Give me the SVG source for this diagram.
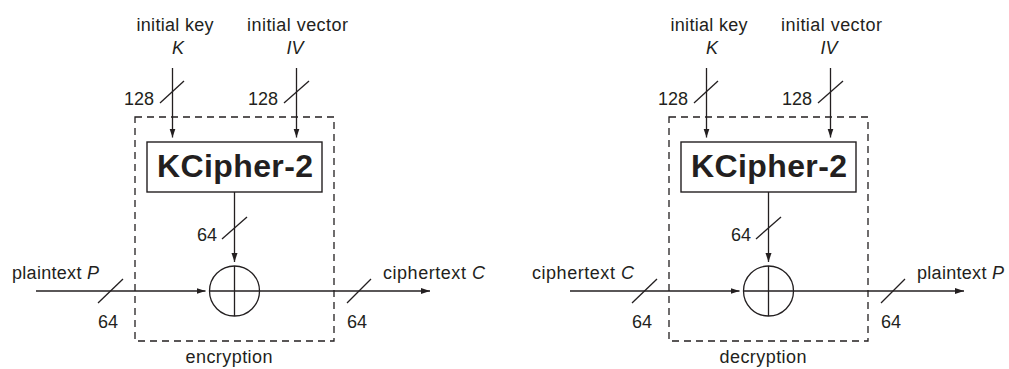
<svg xmlns="http://www.w3.org/2000/svg" width="1009" height="369" viewBox="0 0 1009 369">
<style>
.t{font-family:"Liberation Sans",Arial,sans-serif;font-size:18px;fill:#231f20}
.i{font-style:italic}
.b{font-family:"Liberation Sans",Arial,sans-serif;font-size:32px;font-weight:bold;fill:#231f20}
.ln{stroke:#231f20;stroke-width:1.3;fill:none}
.dash{stroke:#231f20;stroke-width:1.3;fill:none;stroke-dasharray:7 5}
.box{stroke:#231f20;stroke-width:1.4;fill:#fff}
</style>
<defs>
<marker id="ah" markerUnits="userSpaceOnUse" markerWidth="10" markerHeight="7" refX="9" refY="3" orient="auto">
<path d="M0,0 L9,3 L0,6 z" fill="#231f20"/>
</marker>
</defs>
<g id="encryption-panel">
<g id="enc-frame"><rect class="dash" x="135" y="117" width="199" height="224"/><text class="t" x="229" y="363" text-anchor="middle" textLength="87">encryption</text></g>
<g id="enc-key"><text class="t" x="175" y="31" text-anchor="middle" textLength="77">initial key</text><text class="t i" x="178" y="54" text-anchor="middle">K</text></g>
<g id="enc-iv"><text class="t" x="297.5" y="31" text-anchor="middle" textLength="101">initial vector</text><text class="t i" x="295" y="54" text-anchor="middle">IV</text></g>
<g id="enc-kcipher"><rect class="box" x="147" y="142" width="175" height="50"/><text class="b" x="235" y="177" text-anchor="middle" textLength="156">KCipher-2</text></g>
<g id="enc-xor"><circle class="ln" cx="234.5" cy="291" r="25"/><path class="ln" d="M209.5,291 H259.5 M234.5,266 V316"/></g>
<g id="enc-in"><text class="t" x="99" y="279" text-anchor="end" textLength="87">plaintext <tspan class="i">P</tspan></text></g>
<g id="enc-out"><text class="t" x="383" y="279" textLength="102">ciphertext <tspan class="i">C</tspan></text></g>
<g id="enc-connectors">
<line class="ln" x1="172.5" y1="68" x2="172.5" y2="137.5" marker-end="url(#ah)"/>
<line class="ln" x1="160" y1="103" x2="184" y2="81"/>
<text class="t" x="154" y="105" text-anchor="end">128</text>
<line class="ln" x1="296.5" y1="68" x2="296.5" y2="137.5" marker-end="url(#ah)"/>
<line class="ln" x1="284" y1="103" x2="309" y2="81"/>
<text class="t" x="278" y="105" text-anchor="end">128</text>
<line class="ln" x1="234.5" y1="192" x2="234.5" y2="262" marker-end="url(#ah)"/>
<line class="ln" x1="222" y1="239" x2="247" y2="217"/>
<text class="t" x="217" y="241" text-anchor="end">64</text>
<line class="ln" x1="36" y1="291" x2="205.5" y2="291" marker-end="url(#ah)"/>
<line class="ln" x1="98" y1="303" x2="123" y2="279"/>
<text class="t" x="108" y="328" text-anchor="middle">64</text>
<line class="ln" x1="259.5" y1="291" x2="430" y2="291" marker-end="url(#ah)"/>
<line class="ln" x1="347" y1="303" x2="371" y2="279"/>
<text class="t" x="357" y="328" text-anchor="middle">64</text>
</g>
</g>
<g id="decryption-panel" transform="translate(534,0)">
<g id="dec-frame"><rect class="dash" x="135" y="117" width="199" height="224"/><text class="t" x="229" y="363" text-anchor="middle" textLength="87">decryption</text></g>
<g id="dec-key"><text class="t" x="175" y="31" text-anchor="middle" textLength="77">initial key</text><text class="t i" x="178" y="54" text-anchor="middle">K</text></g>
<g id="dec-iv"><text class="t" x="297.5" y="31" text-anchor="middle" textLength="101">initial vector</text><text class="t i" x="295" y="54" text-anchor="middle">IV</text></g>
<g id="dec-kcipher"><rect class="box" x="147" y="142" width="175" height="50"/><text class="b" x="235" y="177" text-anchor="middle" textLength="156">KCipher-2</text></g>
<g id="dec-xor"><circle class="ln" cx="234.5" cy="291" r="25"/><path class="ln" d="M209.5,291 H259.5 M234.5,266 V316"/></g>
<g id="dec-in"><text class="t" x="100" y="279" text-anchor="end" textLength="102">ciphertext <tspan class="i">C</tspan></text></g>
<g id="dec-out"><text class="t" x="383" y="279" textLength="87">plaintext <tspan class="i">P</tspan></text></g>
<g id="dec-connectors">
<line class="ln" x1="172.5" y1="68" x2="172.5" y2="137.5" marker-end="url(#ah)"/>
<line class="ln" x1="160" y1="103" x2="184" y2="81"/>
<text class="t" x="154" y="105" text-anchor="end">128</text>
<line class="ln" x1="296.5" y1="68" x2="296.5" y2="137.5" marker-end="url(#ah)"/>
<line class="ln" x1="284" y1="103" x2="309" y2="81"/>
<text class="t" x="278" y="105" text-anchor="end">128</text>
<line class="ln" x1="234.5" y1="192" x2="234.5" y2="262" marker-end="url(#ah)"/>
<line class="ln" x1="222" y1="239" x2="247" y2="217"/>
<text class="t" x="217" y="241" text-anchor="end">64</text>
<line class="ln" x1="36" y1="291" x2="205.5" y2="291" marker-end="url(#ah)"/>
<line class="ln" x1="98" y1="303" x2="123" y2="279"/>
<text class="t" x="108" y="328" text-anchor="middle">64</text>
<line class="ln" x1="259.5" y1="291" x2="430" y2="291" marker-end="url(#ah)"/>
<line class="ln" x1="347" y1="303" x2="371" y2="279"/>
<text class="t" x="357" y="328" text-anchor="middle">64</text>
</g>
</g>
</svg>
